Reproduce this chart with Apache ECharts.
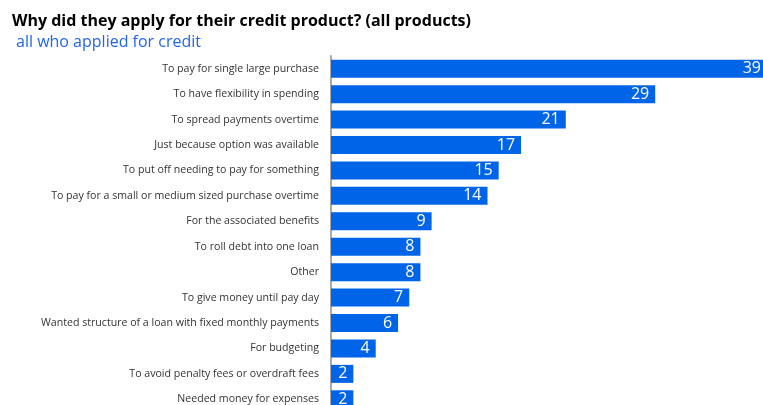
<!DOCTYPE html>
<html>
<head>
<meta charset="utf-8">
<script src="https://cdn.jsdelivr.net/npm/echarts@6/dist/echarts.min.js"></script>
<style>
  html, body { margin: 0; padding: 0; background: #fff; }
  #chart { width: 763px; height: 405px; }
</style>
</head>
<body>
<div id="chart"></div>
<script>
// reasons, top to bottom
const categories = [
  'To pay for single large purchase',
  'To have flexibility in spending',
  'To spread payments overtime',
  'Just because option was available',
  'To put off needing to pay for something',
  'To pay for a small or medium sized purchase overtime',
  'For the associated benefits',
  'To roll debt into one loan',
  'Other',
  'To give money until pay day',
  'Wanted structure of a loan with fixed monthly payments',
  'For budgeting',
  'To avoid penalty fees or overdraft fees',
  'Needed money for expenses'
]
const values = [39, 29, 21, 17, 15, 14, 9, 8, 8, 7, 6, 4, 2, 2]

const chart = echarts.init(document.getElementById('chart'))
chart.setOption({
  animation: false,
  title: [
    {
      text: 'Why did they apply for their credit product? (all products)',
      left: 7,
      top: 8,
      textStyle: { fontFamily: 'Open Sans', fontWeight: 'bold', fontSize: 16, color: '#000' }
    },
    {
      text: 'all who applied for credit',
      left: 11,
      top: 29,
      textStyle: { fontFamily: 'Open Sans', fontWeight: 'normal', fontSize: 16, color: '#2266e8' }
    }
  ],
  grid: {
    left: 331,
    right: -4,
    top: 56,
    bottom: -7,
    outerBoundsMode: 'none'
  },
  xAxis: {
    type: 'value',
    min: 0,
    max: 39,
    show: false
  },
  yAxis: {
    type: 'category',
    inverse: true,
    data: categories,
    axisLine: { show: true, lineStyle: { color: '#aaaaaa', width: 2 } },
    axisTick: { show: false },
    axisLabel: {
      margin: 12,
      fontFamily: 'Open Sans',
      fontSize: 10.6,
      color: '#333'
    }
  },
  series: [
    {
      type: 'bar',
      data: values,
      barWidth: 18,
      itemStyle: { color: '#0064e8' },
      label: {
        show: true,
        position: 'insideRight',
        distance: 6,
        color: '#fff',
        fontFamily: 'Open Sans',
        fontSize: 16
      }
    }
  ]
})
</script>
</body>
</html>
